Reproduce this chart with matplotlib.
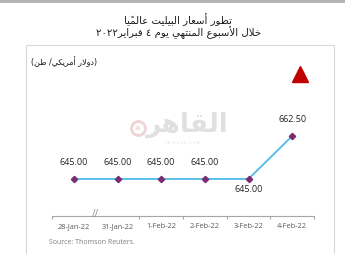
import numpy as np
import matplotlib
matplotlib.use("Agg")
import matplotlib.pyplot as plt
import matplotlib.patches as mpatches
from matplotlib.transforms import blended_transform_factory

plt.rcParams["font.family"] = ["Open Sans", "DejaVu Sans"]

# data
dates = ["28-Jan-22", "31-Jan-22", "1-Feb-22", "2-Feb-22", "3-Feb-22", "4-Feb-22"]
prices = [645.00, 645.00, 645.00, 645.00, 645.00, 662.50]
label_below = [False, False, False, False, True, False]

title_1 = "تطور أسعار البيليت عالميًا"
title_2 = "خلال الأسبوع المنتهي يوم ٤ فبراير٢٠٢٢"
unit_text = "(دولار أمريكي/ طن)"
source_text = "Source: Thomson Reuters."

# arabic presentation forms: isolated, final, initial, medial
_forms = {
    "ا": (0xFE8D, 0xFE8E, None, None), "أ": (0xFE83, 0xFE84, None, None),
    "إ": (0xFE87, 0xFE88, None, None), "آ": (0xFE81, 0xFE82, None, None),
    "ب": (0xFE8F, 0xFE90, 0xFE91, 0xFE92), "ت": (0xFE95, 0xFE96, 0xFE97, 0xFE98),
    "ث": (0xFE99, 0xFE9A, 0xFE9B, 0xFE9C), "ج": (0xFE9D, 0xFE9E, 0xFE9F, 0xFEA0),
    "ح": (0xFEA1, 0xFEA2, 0xFEA3, 0xFEA4), "خ": (0xFEA5, 0xFEA6, 0xFEA7, 0xFEA8),
    "د": (0xFEA9, 0xFEAA, None, None), "ذ": (0xFEAB, 0xFEAC, None, None),
    "ر": (0xFEAD, 0xFEAE, None, None), "ز": (0xFEAF, 0xFEB0, None, None),
    "س": (0xFEB1, 0xFEB2, 0xFEB3, 0xFEB4), "ش": (0xFEB5, 0xFEB6, 0xFEB7, 0xFEB8),
    "ص": (0xFEB9, 0xFEBA, 0xFEBB, 0xFEBC), "ض": (0xFEBD, 0xFEBE, 0xFEBF, 0xFEC0),
    "ط": (0xFEC1, 0xFEC2, 0xFEC3, 0xFEC4), "ظ": (0xFEC5, 0xFEC6, 0xFEC7, 0xFEC8),
    "ع": (0xFEC9, 0xFECA, 0xFECB, 0xFECC), "غ": (0xFECD, 0xFECE, 0xFECF, 0xFED0),
    "ف": (0xFED1, 0xFED2, 0xFED3, 0xFED4), "ق": (0xFED5, 0xFED6, 0xFED7, 0xFED8),
    "ك": (0xFED9, 0xFEDA, 0xFEDB, 0xFEDC), "ل": (0xFEDD, 0xFEDE, 0xFEDF, 0xFEE0),
    "م": (0xFEE1, 0xFEE2, 0xFEE3, 0xFEE4), "ن": (0xFEE5, 0xFEE6, 0xFEE7, 0xFEE8),
    "ه": (0xFEE9, 0xFEEA, 0xFEEB, 0xFEEC), "و": (0xFEED, 0xFEEE, None, None),
    "ي": (0xFEF1, 0xFEF2, 0xFEF3, 0xFEF4), "ى": (0xFEEF, 0xFEF0, None, None),
    "ة": (0xFE93, 0xFE94, None, None),
}
_lam_alef = {"ا": (0xFEFB, 0xFEFC), "أ": (0xFEF7, 0xFEF8),
             "إ": (0xFEF9, 0xFEFA), "آ": (0xFEF5, 0xFEF6)}


def _is_mark(c):
    return "\u064B" <= c <= "\u0652"


def rtl(text):
    """shape arabic text and return it in visual (left to right) order"""
    chars = list(text)
    clusters = []  # (glyph, marks, is_letter)
    i = 0
    while i < len(chars):
        c = chars[i]
        if _is_mark(c) and clusters:
            clusters[-1][1].append(c)
            i += 1
            continue
        if c == "ل" and i + 1 < len(chars) and chars[i + 1] in _lam_alef:
            clusters.append([("LA", chars[i + 1]), [], True])
            i += 2
            continue
        clusters.append([c, [], c in _forms])
        i += 1

    def can_join_next(cl):
        if not cl[2]:
            return False
        if isinstance(cl[0], tuple):
            return False
        return _forms[cl[0]][2] is not None

    out = []
    for k, cl in enumerate(clusters):
        if not cl[2]:
            out.append(cl)
            continue
        prev = clusters[k - 1] if k > 0 else None
        nxt = clusters[k + 1] if k + 1 < len(clusters) else None
        jp = prev is not None and can_join_next(prev)
        jn = can_join_next(cl) and nxt is not None and nxt[2]
        if isinstance(cl[0], tuple):
            g = chr(_lam_alef[cl[0][1]][1 if jp else 0])
        else:
            f = _forms[cl[0]]
            if jp and jn:
                g = chr(f[3])
            elif jp:
                g = chr(f[1])
            elif jn:
                g = chr(f[2])
            else:
                g = chr(f[0])
        out.append([g, cl[1], True])

    # reverse, keeping digit runs in order
    pieces = []
    run = ""
    for cl in out:
        g = cl[0] + "".join(cl[1])
        if cl[0].isdigit():
            run += g
        else:
            if run:
                pieces.append(run)
                run = ""
            pieces.append(g)
    if run:
        pieces.append(run)
    mirror = {"(": ")", ")": "("}
    return "".join(mirror.get(p, p) for p in reversed(pieces))


fig = plt.figure(figsize=(3.45, 2.54), dpi=100)

# background decoration layer in pixel coords
bg = fig.add_axes([0, 0, 1, 1], zorder=0)
bg.set_xlim(0, 345)
bg.set_ylim(254, 0)
bg.axis("off")
bg.add_patch(mpatches.Rectangle((0, 0), 345, 3, color="#b4b4b4", lw=0))
bg.add_patch(mpatches.Rectangle((26, 45), 308, 215, fill=False,
                                edgecolor="#d9d9d9", lw=0.8))
bg.plot([300], [74], marker="^", ms=12, color="#c00000", mec="#c00000")

bg.text(178, 19.5, rtl(title_1), ha="center", va="center", fontsize=7.3,
        family="DejaVu Sans", color="#1a1a1a")
bg.text(179, 33, rtl(title_2), ha="center", va="center", fontsize=7.3,
        family="DejaVu Sans", color="#1a1a1a")
bg.text(31, 62, rtl(unit_text), ha="left", va="center",
        fontsize=5.8, family="DejaVu Sans", color="#1a1a1a")
bg.text(49, 242, source_text, ha="left", va="center", fontsize=5,
        color="#7f7f7f")

# faint watermark
bg.text(186, 125, rtl("القاهر"), ha="center", va="center", fontsize=19,
        family="DejaVu Sans", fontweight="bold", color="#e0e0e0")
bg.plot([138], [128], marker="o", ms=10, mfc="none", mec="#ecd5d5", mew=2)
bg.text(138, 128, "24", ha="center", va="center", fontsize=4,
        color="#ecd5d5", fontweight="bold")
bg.text(182, 143, "C A I R O 2 4 . C O M", ha="center", va="center",
        fontsize=2.8, color="#e0e0e0")

# main chart
ax = fig.add_axes([52 / 345, 1 - 216 / 254, 262 / 345, 116 / 254], zorder=1)
ax.patch.set_alpha(0)
x = np.arange(len(dates))
ax.plot(x, prices, color="#4dbbe8", lw=1.3, zorder=2)
ax.plot(x, prices, ls="none", marker="D", ms=3.2, color="#7b2c6e", zorder=3)

for xi, val, below in zip(x, prices, label_below):
    if below:
        ax.annotate(f"{val:.2f}", (xi, val), xytext=(0, -4.5),
                    textcoords="offset points", ha="center", va="top",
                    fontsize=6.5, color="#222222")
    else:
        ax.annotate(f"{val:.2f}", (xi, val), xytext=(0, 8.5),
                    textcoords="offset points", ha="center", va="bottom",
                    fontsize=6.5, color="#222222")

ax.set_xlim(-0.5, len(dates) - 0.5)
ax.set_ylim(629.9, 677.2)
ax.set_yticks([])
for s in ["top", "right", "left"]:
    ax.spines[s].set_visible(False)
ax.spines["bottom"].set_color("#a6a6a6")
ax.spines["bottom"].set_linewidth(0.8)

ax.set_xticks(x)
ax.set_xticklabels(dates, fontsize=5.3, color="#595959")
ax.tick_params(axis="x", which="major", length=0, pad=5)
ax.set_xticks(np.arange(-0.5, len(dates), 1.0)[[0, 2, 3, 4, 5, 6]], minor=True)
ax.tick_params(axis="x", which="minor", length=2.5, color="#a6a6a6", width=0.8)

# axis break mark
trans = blended_transform_factory(ax.transData, ax.transAxes)
ax.text(0.5, 0.01, "//", transform=trans, ha="center", va="center",
        fontsize=7, color="#8c8c8c", clip_on=False)

fig.savefig("out.png", dpi=100)
